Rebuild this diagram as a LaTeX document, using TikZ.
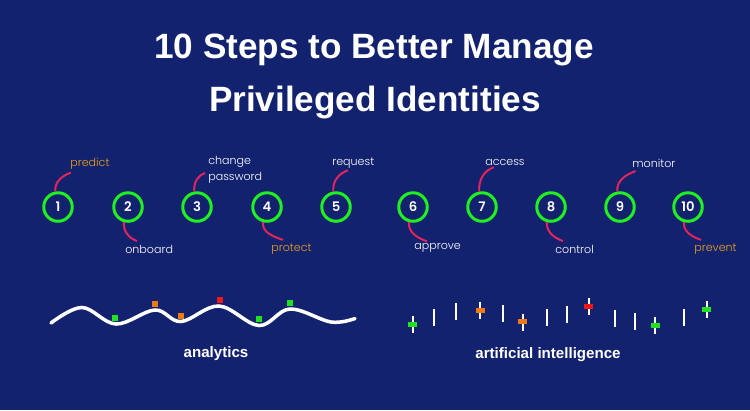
\documentclass[tikz,border=0pt]{standalone}
\usepackage{fontspec}
\setmainfont{Liberation Sans}
\newfontfamily\labelfont{Poppins}[UprightFont={* Light}, BoldFont={* SemiBold}]

\definecolor{bgblue}{HTML}{13226F}
\definecolor{ringgreen}{HTML}{1FF21F}
\definecolor{linkpink}{HTML}{E8245C}
\definecolor{tagorange}{HTML}{E8A317}
\definecolor{markorange}{HTML}{F07A12}
\definecolor{markred}{HTML}{F01818}
\definecolor{markgreen}{HTML}{22E022}

\tikzset{
  stepnode/.style={circle, draw=ringgreen, line width=1.7pt, minimum size=0.57cm,
    inner sep=0pt, text=white, font=\labelfont\bfseries\fontsize{7.5}{8}\selectfont},
  tag/.style={anchor=west, inner sep=0pt, text=white, font=\labelfont\fontsize{6.3}{9}\selectfont},
  hot/.style={tag, text=tagorange},
  link/.style={linkpink, line width=1.1pt},
  caption/.style={text=white, font=\bfseries\fontsize{8.6}{10}\selectfont},
}

\begin{document}
\begin{tikzpicture}[x=0.02cm, y=-0.02cm]
  \fill[bgblue] (0,0) rectangle (750,410);
  \useasboundingbox (0,0) rectangle (750,410);

  \node[text=white, font=\bfseries\fontsize{20}{24}\selectfont] (title) at (374,50) {10 Steps to Better Manage};
  \node[text=white, font=\bfseries\fontsize{20}{24}\selectfont] (subtitle) at (375,102) {Privileged Identities};

  % the ten steps
  \foreach \n/\x in {1/58,2/128,3/197,4/267,5/336,6/413,7/482,8/551,9/620,10/688}
    \node[stepnode] (s\n) at (\x,207) {\n};

  \node[hot] (l1) at (70,164) {predict};
  \node[tag] (l2) at (125,249) {onboard};
  \node[tag, align=left] (l3) at (208,170) {change\\password};
  \node[hot] (l4) at (271,249) {protect};
  \node[tag] (l5) at (332,163) {request};
  \node[tag] (l6) at (414,248) {approve};
  \node[tag] (l7) at (485,162) {access};
  \node[tag] (l8) at (555,249) {control};
  \node[tag] (l9) at (632,163) {monitor};
  \node[hot] (l10) at (694,249) {prevent};

  % curly links, above and below
  \draw[link] (s1.100) to[out=95,in=200] ([shift={(0.5pt,-1.5pt)}]l1.south west);
  \draw[link] (s3.100) to[out=95,in=200] ([shift={(-1.7pt,-1.7pt)}]l3.west);
  \draw[link] (s5.100) to[out=95,in=200] ([shift={(9pt,-1pt)}]l5.south west);
  \draw[link] (s7.100) to[out=95,in=200] ([shift={(5pt,-1pt)}]l7.south west);
  \draw[link] (s9.100) to[out=95,in=200] ([shift={(2pt,-2pt)}]l9.south west);
  \draw[link] (s2.255) to[out=265,in=160] ([shift={(6.8pt,2pt)}]l2.north west);
  \draw[link] (s4.255) to[out=265,in=160] ([shift={(6.8pt,2pt)}]l4.north west);
  \draw[link] (s6.255) to[out=265,in=160] ([shift={(7.4pt,1pt)}]l6.north west);
  \draw[link] (s8.255) to[out=265,in=160] ([shift={(4.5pt,2pt)}]l8.north west);
  \draw[link] (s10.255) to[out=265,in=160] ([shift={(4pt,2pt)}]l10.north west);

  % analytics wave
  \draw[white, line width=2pt, line cap=round] plot[smooth, tension=0.6] coordinates {(51,323) (82,307.5) (116,324) (155,310) (181,321.5) (219,306) (259,325.5) (290,309) (331,322) (355,318.5)};
  \foreach \x/\y/\c in {115/318/markgreen, 155/304/markorange, 181/316/markorange, 220/300/markred, 259/319/markgreen, 290/303/markgreen}
    \fill[\c] (\x-2.8,\y-2.8) rectangle (\x+2.8,\y+2.8);
  \node[caption] (analytics) at (216,354) {analytics};

  % ai ticks
  \foreach \x/\t in {412.7/315.7, 434.3/309, 455.7/303, 480/301.7, 502.7/305, 522.7/314, 547.3/309.3, 566.7/305.7, 588.7/297.7, 615/310, 635/313.3, 655/317.3, 684.3/309, 706.7/300.7}
    \draw[white, line width=1.1pt] (\x,\t) -- ++(0,17);
  \foreach \x/\y/\c in {412.7/324/markgreen, 480/310/markorange, 522.7/321.7/markorange, 588.7/306.3/markred, 655/325.7/markgreen, 706.7/309/markgreen}
    \fill[\c] (\x-4.5,\y-2.5) rectangle (\x+4.5,\y+2.5);
  \node[caption] (ai) at (548,355) {artificial intelligence};
\end{tikzpicture}
\end{document}
